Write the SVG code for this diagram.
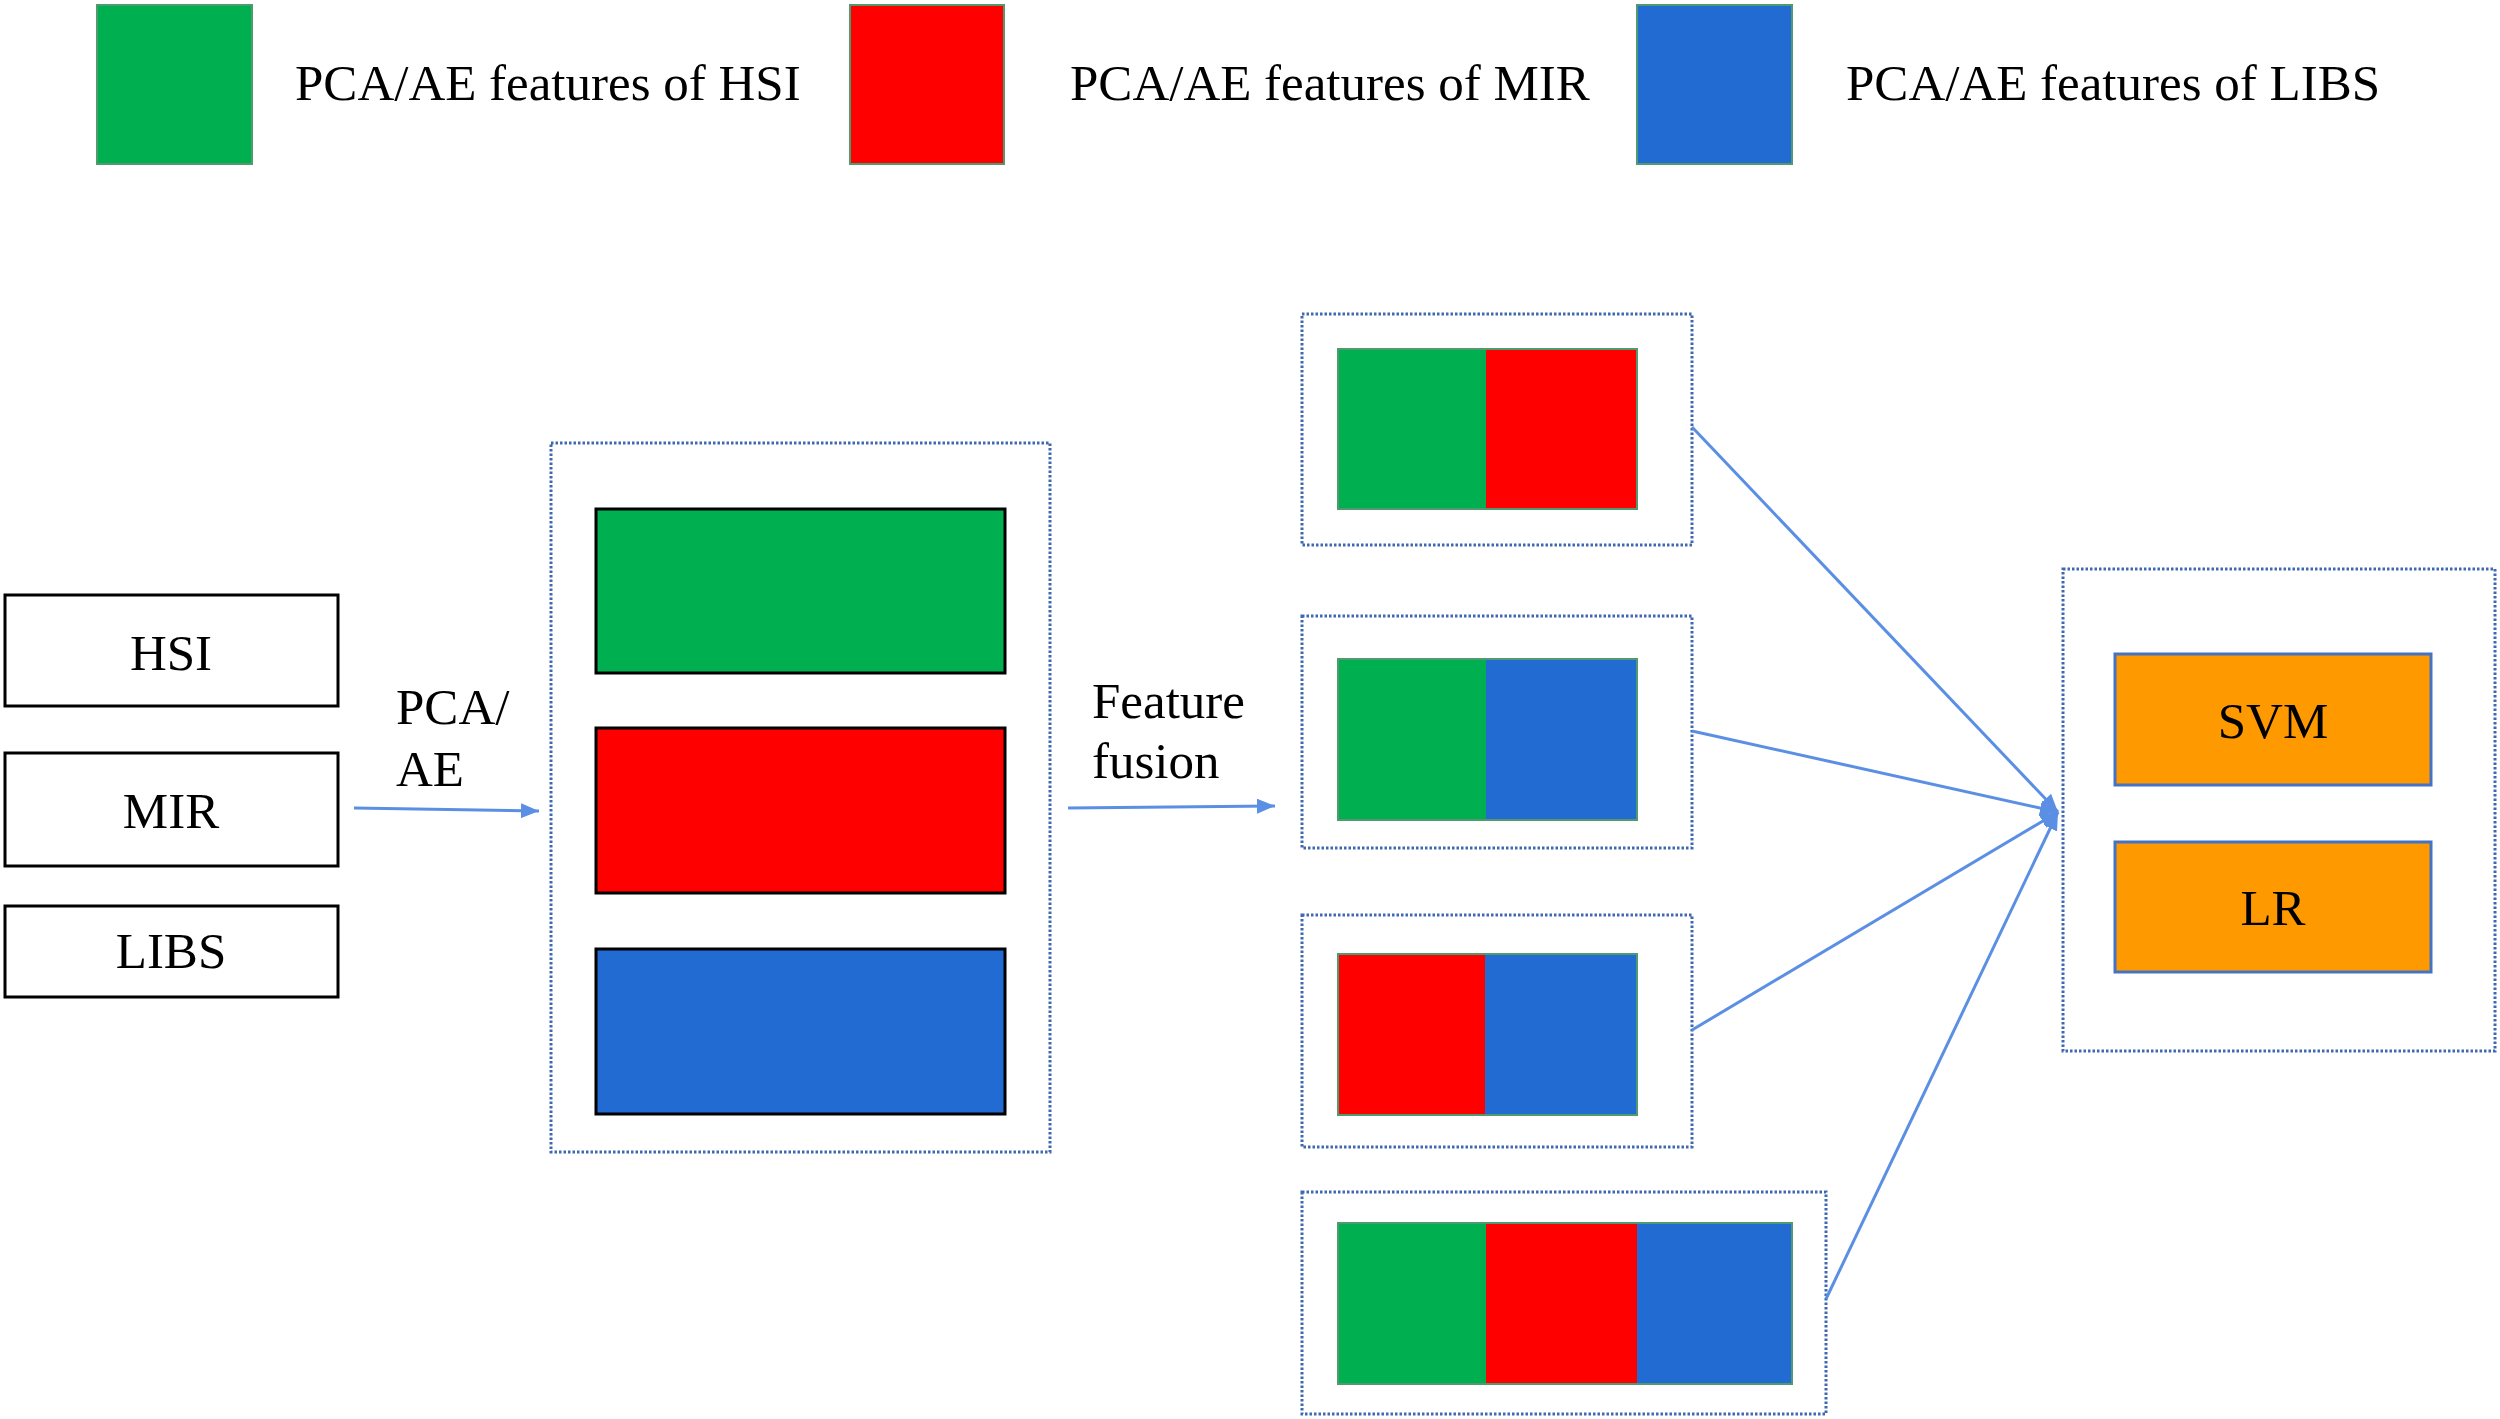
<svg xmlns="http://www.w3.org/2000/svg" width="2500" height="1419" viewBox="0 0 2500 1419">
<style>
text{font-family:"Liberation Serif","Times New Roman",serif;font-size:51px;fill:#000}
.c{text-anchor:middle}
.dot{fill:none;stroke:#3F68B0;stroke-width:3;stroke-dasharray:2.5 2}
.src{fill:#fff;stroke:#000;stroke-width:3}
.blk{stroke:#000;stroke-width:3}
.seg{stroke:#4F9A6E;stroke-width:2}
.g{fill:#00AF50}
.r{fill:#FF0000}
.b{fill:#226BD3}
.o{fill:#FF9900;stroke:#4472C4;stroke-width:3}
.ln{fill:none;stroke:#5B8FE3;stroke-width:3;marker-end:url(#ah)}
</style>
<defs>
<marker id="ah" viewBox="0 0 10 10" refX="10" refY="5" markerWidth="6" markerHeight="5" orient="auto" markerUnits="strokeWidth" preserveAspectRatio="none">
<path d="M0,0 L10,5 L0,10 z" fill="#5B8FE3"/>
</marker>
</defs>
<rect width="2500" height="1419" fill="#fff"/>
<g id="legend">
<g id="legend-hsi"><rect class="g seg" x="97" y="5" width="155" height="159"/><text x="295" y="100">PCA/AE features of HSI</text></g>
<g id="legend-mir"><rect class="r seg" x="850" y="5" width="154" height="159"/><text x="1070" y="100">PCA/AE features of MIR</text></g>
<g id="legend-libs"><rect class="b seg" x="1637" y="5" width="155" height="159"/><text x="1846" y="100">PCA/AE features of LIBS</text></g>
</g>
<g id="hsi"><rect class="src" x="5" y="595" width="333" height="111"/><text class="c" x="171" y="670">HSI</text></g>
<g id="mir"><rect class="src" x="5" y="753" width="333" height="113"/><text class="c" x="171" y="828">MIR</text></g>
<g id="libs"><rect class="src" x="5" y="906" width="333" height="91"/><text class="c" x="171" y="968">LIBS</text></g>
<g id="features">
<rect class="dot" x="551" y="443" width="499" height="709"/>
<rect class="g blk" x="596" y="509" width="409" height="164"/>
<rect class="r blk" x="596" y="728" width="409" height="165"/>
<rect class="b blk" x="596" y="949" width="409" height="165"/>
</g>
<g id="fusion-hsi-mir">
<rect class="dot" x="1302" y="314" width="390" height="231"/>
<rect class="g" x="1338" y="349" width="148" height="160"/>
<rect class="r" x="1486" y="349" width="151" height="160"/>
<rect class="seg" fill="none" x="1338" y="349" width="299" height="160"/>
</g>
<g id="fusion-hsi-libs">
<rect class="dot" x="1302" y="616" width="390" height="232"/>
<rect class="g" x="1338" y="659" width="148" height="161"/>
<rect class="b" x="1486" y="659" width="151" height="161"/>
<rect class="seg" fill="none" x="1338" y="659" width="299" height="161"/>
</g>
<g id="fusion-mir-libs">
<rect class="dot" x="1302" y="915" width="390" height="232"/>
<rect class="r" x="1338" y="954" width="147" height="161"/>
<rect class="b" x="1485" y="954" width="152" height="161"/>
<rect class="seg" fill="none" x="1338" y="954" width="299" height="161"/>
</g>
<g id="fusion-all">
<rect class="dot" x="1302" y="1192" width="524" height="222"/>
<rect class="g" x="1338" y="1223" width="148" height="161"/>
<rect class="r" x="1486" y="1223" width="151" height="161"/>
<rect class="b" x="1637" y="1223" width="155" height="161"/>
<rect class="seg" fill="none" x="1338" y="1223" width="454" height="161"/>
</g>
<g id="classifiers">
<rect class="dot" x="2063" y="569" width="432" height="482"/>
<g id="svm"><rect class="o" x="2115" y="654" width="316" height="131"/><text class="c" x="2273" y="738">SVM</text></g>
<g id="lr"><rect class="o" x="2115" y="842" width="316" height="130"/><text class="c" x="2273" y="925">LR</text></g>
</g>
<g id="labels">
<text x="396" y="724">PCA/</text>
<text x="396" y="786">AE</text>
<text x="1092" y="718">Feature</text>
<text x="1092" y="778">fusion</text>
</g>
<g id="connectors">
<path class="ln" d="M354,808 L539,811"/>
<path class="ln" d="M1068,808 L1275,806"/>
<path class="ln" d="M1692,427 L2058,812"/>
<path class="ln" d="M1692,731 L2058,812"/>
<path class="ln" d="M1692,1030 L2058,812"/>
<path class="ln" d="M1826,1299 L2058,812"/>
</g>
</svg>
